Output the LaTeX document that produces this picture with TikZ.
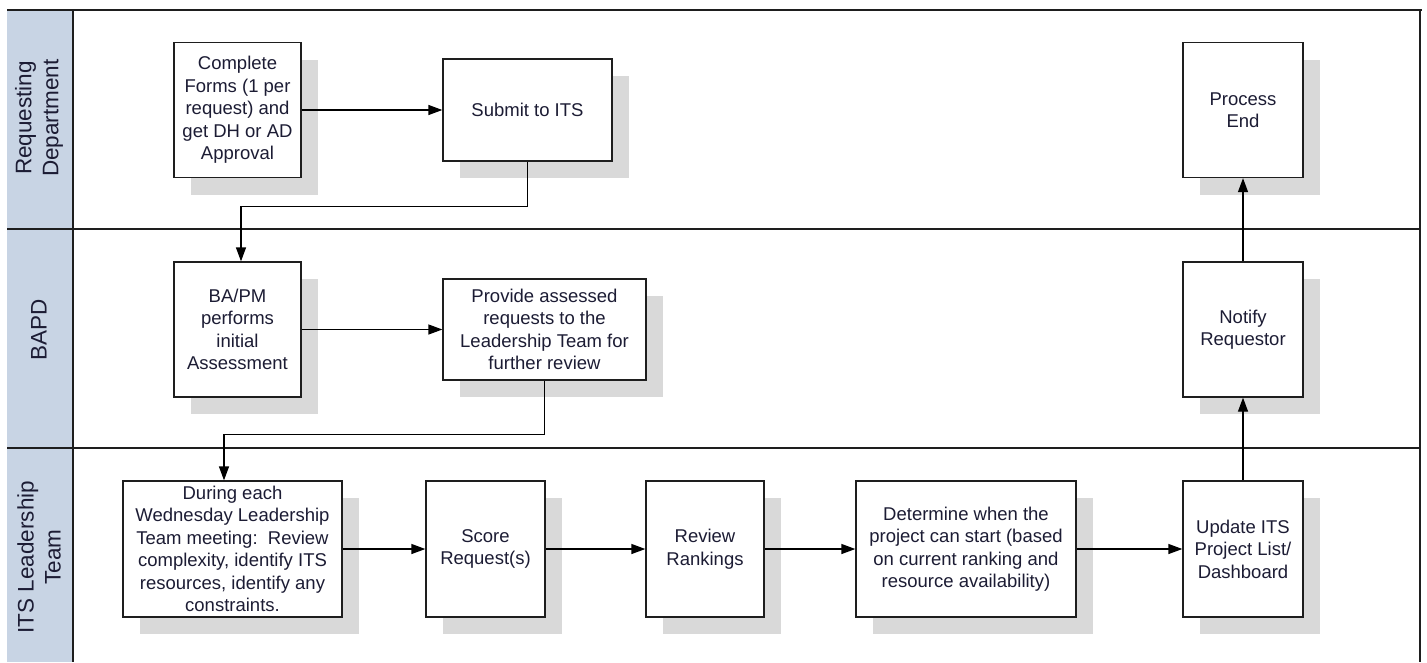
\documentclass[tikz,border=0pt]{standalone}
\usepackage{fontspec}
\setmainfont{Liberation Sans}
\usetikzlibrary{arrows.meta,shadows}
\definecolor{lanefill}{RGB}{200,212,228}
\definecolor{shadowgray}{RGB}{217,217,217}
\definecolor{txt}{RGB}{28,28,52}
\definecolor{linec}{RGB}{30,30,30}
\tikzset{
  procbox/.style={draw=linec, line width=1.3pt, fill=white, align=center,
    text=txt, font=\fontsize{18.5}{22.5}\selectfont, inner sep=2pt,
    drop shadow={shadow xshift=17pt, shadow yshift=-17pt, fill=shadowgray, opacity=1}},
  lanetext/.style={rotate=90, align=center, text=txt, font=\fontsize{22.5}{27}\selectfont, inner sep=0pt},
  laneline/.style={draw=linec, line width=1.4pt},
  flow/.style={draw=black, line width=1.3pt, -{Triangle[length=14pt,width=10pt]}},
}
\begin{document}
\begin{tikzpicture}[x=1pt,y=-1pt]
\useasboundingbox (0,0) rectangle (1427,662);
% lane headers
\fill[lanefill] (7,10) rectangle (73,662);
\draw[laneline] (7,10) -- (1422,10);
\draw[laneline] (7,229) -- (1420,229);
\draw[laneline] (7,448) -- (1420,448);
\draw[laneline] (73,10) -- (73,662);
\draw[draw=linec, line width=2.6pt] (1420,10) -- (1420,662);
\node[lanetext] (l1) at (39,118) {Requesting\\Department};
\node[lanetext] (l2) at (39,330) {BAPD};
\node[lanetext] (l3) at (39,557) {ITS Leadership\\Team};
% boxes
\node[procbox, minimum width=127pt, minimum height=135pt] (cf) at (237.5,110) {Complete\\Forms (1 per\\request) and\\get DH or AD\\Approval};
\node[procbox, minimum width=169pt, minimum height=102pt] (sub) at (527.5,110) {Submit to ITS};
\node[procbox, minimum width=120pt, minimum height=135pt] (pe) at (1243,110) {Process\\End};
\node[procbox, minimum width=127pt, minimum height=135pt] (ba) at (237.5,329.5) {BA/PM\\performs\\initial\\Assessment};
\node[procbox, minimum width=203pt, minimum height=101pt] (prov) at (544.5,329.5) {Provide assessed\\requests to the\\Leadership Team for\\further review};
\node[procbox, minimum width=120pt, minimum height=135pt] (nr) at (1243,329.5) {Notify\\Requestor};
\node[procbox, minimum width=219pt, minimum height=136pt] (dur) at (232.5,549) {During each\\Wednesday Leadership\\Team meeting:\ \ Review\\complexity, identify ITS\\resources, identify any\\constraints.};
\node[procbox, minimum width=119pt, minimum height=136pt] (score) at (485.5,549) {Score\\Request(s)};
\node[procbox, minimum width=118pt, minimum height=136pt] (rev) at (705,549) {Review\\Rankings};
\node[procbox, minimum width=220pt, minimum height=136pt] (det) at (966,549) {Determine when the\\project can start (based\\on current ranking and\\resource availability)};
\node[procbox, minimum width=120pt, minimum height=136pt] (upd) at (1243,549) {Update ITS\\Project List/\\Dashboard};
% connectors
\draw[flow] (cf.east) -- (sub.west);
\draw[flow] (sub.south) -- ++(0,45) -| ([xshift=3.5pt]ba.north);
\draw[flow] (ba.east) -- (prov.west);
\draw[flow] (prov.south) -- ++(0,54) -| ([xshift=-8.5pt]dur.north);
\draw[flow] (dur.east) -- (score.west);
\draw[flow] (score.east) -- (rev.west);
\draw[flow] (rev.east) -- (det.west);
\draw[flow] (det.east) -- (upd.west);
\draw[flow] (upd.north) -- (nr.south);
\draw[flow] (nr.north) -- (pe.south);
\end{tikzpicture}
\end{document}
